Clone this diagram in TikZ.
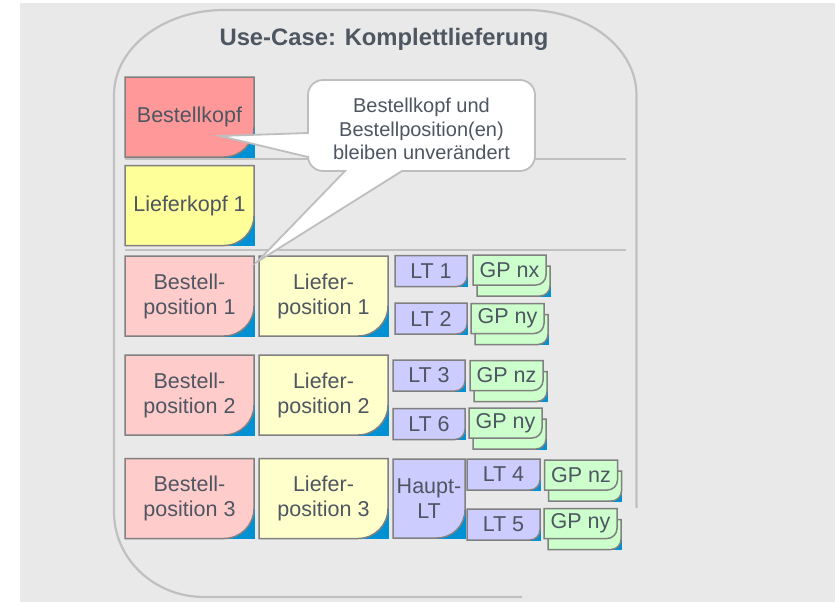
\documentclass[tikz,border=0pt]{standalone}
\usepackage{fontspec}
\setmainfont{Liberation Sans}
\usetikzlibrary{calc}
\pgfdeclarelayer{background}
\pgfsetlayers{background,main}

\definecolor{pagebg}{RGB}{233,233,233}
\definecolor{frameline}{RGB}{192,192,192}
\definecolor{noteline}{RGB}{190,190,190}
\definecolor{boxline}{RGB}{128,128,128}
\definecolor{txt}{RGB}{78,86,98}
\definecolor{earblue}{RGB}{0,144,212}
\definecolor{headred}{RGB}{255,153,153}
\definecolor{headyellow}{RGB}{255,255,153}
\definecolor{posred}{RGB}{255,204,204}
\definecolor{posyellow}{RGB}{255,255,204}
\definecolor{ltblue}{RGB}{204,204,255}
\definecolor{gpgreen}{RGB}{204,255,204}

\tikzset{
  card/.style={inner sep=0pt, outer sep=0pt, align=center, text=txt,
    font=\fontsize{21.5}{25}\selectfont},
  bigcard/.style={card, minimum width=129pt, minimum height=80pt},
  ltcard/.style={card, minimum width=72pt, minimum height=31pt},
  gpcard/.style={card, minimum width=73pt, minimum height=30pt},
  boxedge/.style={draw=boxline, line width=1.5pt},
  frame/.style={draw=frameline, line width=2.2pt},
  divider/.style={draw=frameline, line width=2pt},
  notebox/.style={draw=noteline, line width=1.8pt, fill=white},
  notetext/.style={inner sep=0pt, align=center, text=txt,
    font=\fontsize{20}{23.5}\selectfont},
}

% card with a blue dog-ear behind its rounded lower right corner
% #1 node, #2 radius, #3 fill, #4 dx, #5 dy
\newcommand\earcard[5]{%
  \fill[earblue] ($(#1.south east)+(#4pt-#2pt,#5pt-0.75pt)$) rectangle
    ($(#1.south east)+(#4pt+0.75pt,#5pt+#2pt)$);
  \draw[boxedge,fill=#3] ($(#1.south west)+(#4pt,#5pt)$) --
    ($(#1.north west)+(#4pt,#5pt)$) -- ($(#1.north east)+(#4pt,#5pt)$) --
    ($(#1.south east)+(#4pt,#5pt+#2pt)$)
    arc[start angle=0,end angle=-90,radius=#2pt] -- cycle;}
% plain card with rounded lower right corner (front sheet of a stack)
\newcommand\plaincard[3]{%
  \draw[boxedge,fill=#3] (#1.south west) -- (#1.north west) --
    (#1.north east) -- ($(#1.south east)+(0,#2pt)$)
    arc[start angle=0,end angle=-90,radius=#2pt] -- cycle;}
% stacked pair of green sheets
\newcommand\gpstack[1]{%
  \earcard{#1}{10}{gpgreen}{4}{-11}%
  \plaincard{#1}{10}{gpgreen}}

\begin{document}
\begin{tikzpicture}[x=1pt,y=1pt]
\useasboundingbox (0,0) rectangle (835,-602);

% title
\node[font=\bfseries\fontsize{23.8}{28}\selectfont, text=txt, anchor=base]
  (title) at (384,-46) {Use-Case: Komplettlieferung};

% header cards
\node[bigcard] (bk) at (189.5,-117) {Bestellkopf};
\node[bigcard] (lk) at (189.5,-205.5) {Lieferkopf 1};

% row 1
\node[bigcard] (bp1) at (189.5,-296) {Bestell-\\position 1};
\node[bigcard] (lp1) at (323.5,-296) {Liefer-\\position 1};
\node[ltcard] (lt1) at (431,-271) {LT 1};
\node[ltcard] (lt2) at (431,-318.5) {LT 2};
\node[gpcard] (gp1) at (509.5,-270) {GP nx};
\node[gpcard] (gp2) at (507.5,-318.5) {GP ny};

% row 2
\node[bigcard] (bp2) at (189.5,-395) {Bestell-\\position 2};
\node[bigcard] (lp2) at (323.5,-395) {Liefer-\\position 2};
\node[ltcard] (lt3) at (429,-375.5) {LT 3};
\node[ltcard] (lt6) at (429,-424) {LT 6};
\node[gpcard] (gp3) at (506.5,-375.5) {GP nz};
\node[gpcard] (gp4) at (505.5,-423) {GP ny};

% row 3
\node[bigcard] (bp3) at (189.5,-498.5) {Bestell-\\position 3};
\node[bigcard] (lp3) at (323.5,-498.5) {Liefer-\\position 3};
\node[card, minimum width=72pt, minimum height=79pt] (hlt) at (429,-498.5) {Haupt-\\LT};
\node[ltcard, minimum width=73pt] (lt4) at (503.5,-474.5) {LT 4};
\node[ltcard, minimum width=73pt] (lt5) at (503.5,-524.5) {LT 5};
\node[gpcard] (gp5) at (581,-475) {GP nz};
\node[gpcard] (gp6) at (580.5,-523.5) {GP ny};

\begin{pgfonlayer}{background}
  \fill[pagebg] (20,-3) rectangle (835,-602);
  % open use-case frame
  \draw[frame] (636.5,-508) -- (636.5,-95)
    arc[start angle=0,end angle=90,x radius=110,y radius=85] -- (224,-10)
    arc[start angle=90,end angle=180,x radius=110,y radius=85] -- (114,-512)
    arc[start angle=180,end angle=270,x radius=90,y radius=85] -- (522,-597);
  % section dividers
  \coordinate (d1l) at (125,-158.5);
  \coordinate (d1r) at (626,-158.5);
  \coordinate (d2l) at (125,-250);
  \coordinate (d2r) at (626,-250);
  \draw[divider] (d1l) -- (d1r);
  \draw[divider] (d2l) -- (d2r);

  \earcard{bk}{30}{headred}{0}{0}
  \earcard{lk}{30}{headyellow}{0}{0}
  \earcard{bp1}{30}{posred}{0}{0}
  \earcard{lp1}{30}{posyellow}{0}{0}
  \earcard{bp2}{30}{posred}{0}{0}
  \earcard{lp2}{30}{posyellow}{0}{0}
  \earcard{bp3}{30}{posred}{0}{0}
  \earcard{lp3}{30}{posyellow}{0}{0}
  \earcard{hlt}{28}{ltblue}{0}{0}
  \earcard{lt1}{10}{ltblue}{0}{0}
  \earcard{lt2}{10}{ltblue}{0}{0}
  \earcard{lt3}{10}{ltblue}{0}{0}
  \earcard{lt6}{10}{ltblue}{0}{0}
  \earcard{lt4}{10}{ltblue}{0}{0}
  \earcard{lt5}{10}{ltblue}{0}{0}
  \gpstack{gp1}
  \gpstack{gp2}
  \gpstack{gp3}
  \gpstack{gp4}
  \gpstack{gp5}
  \gpstack{gp6}
\end{pgfonlayer}

% callout with two pointers
\coordinate (tipkopf) at (220,-136);
\coordinate (tippos) at (257,-262);
\draw[notebox] (323,-80) -- (520,-80)
  arc[start angle=90,end angle=0,radius=15] -- (535,-156)
  arc[start angle=0,end angle=-90,radius=15] -- (402,-171) -- (tippos)
  -- (345,-171) -- (323,-171)
  arc[start angle=270,end angle=180,radius=15] -- (308,-157) -- (tipkopf)
  -- (308,-133) -- (308,-95)
  arc[start angle=180,end angle=90,radius=15] -- cycle;
\node[notetext] (note) at (421.5,-129)
  {Bestellkopf und\\Bestellposition(en)\\bleiben unverändert};
\end{tikzpicture}
\end{document}
